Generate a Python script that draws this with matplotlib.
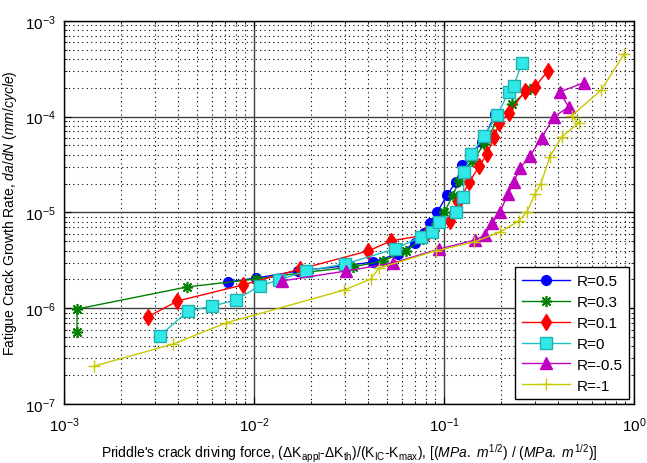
import numpy as np
import matplotlib
matplotlib.use("Agg")
import matplotlib.pyplot as plt
from matplotlib.ticker import LogLocator, NullFormatter

plt.rcParams['font.family'] = ['Liberation Sans', 'DejaVu Sans']
plt.rcParams['mathtext.fontset'] = 'custom'
plt.rcParams['mathtext.rm'] = 'Liberation Sans'
plt.rcParams['mathtext.it'] = 'Liberation Sans:italic'
plt.rcParams['mathtext.default'] = 'regular'

# data
x_r05 = [7.3e-3, 1.03e-2, 1.71e-2, 2.94e-2, 4.22e-2, 5.71e-2, 7.0e-2, 7.8e-2, 8.4e-2,
         9.2e-2, 0.104, 0.115, 0.125, 0.159, 0.186]
y_r05 = [1.88e-6, 2.07e-6, 2.45e-6, 2.76e-6, 3.04e-6, 3.69e-6, 4.8e-6, 6.1e-6, 7.8e-6,
         1.01e-5, 1.52e-5, 2.08e-5, 3.13e-5, 5.45e-5, 1.07e-4]

x_r03 = [1.17e-3, 1.17e-3, 4.45e-3, 1.02e-2, 1.93e-2, 3.32e-2, 4.76e-2, 6.28e-2, 7.71e-2,
         8.91e-2, 0.1005, 0.111, 0.120, 0.141, 0.163, 0.190, 0.228, 0.283]
y_r03 = [5.65e-7, 9.82e-7, 1.67e-6, 2.02e-6, 2.39e-6, 2.70e-6, 3.11e-6, 3.96e-6, 5.29e-6,
         7.06e-6, 1.01e-5, 1.49e-5, 2.13e-5, 3.45e-5, 5.19e-5, 9.03e-5, 1.36e-4, 1.95e-4]

x_r01 = [2.75e-3, 3.95e-3, 8.73e-3, 1.75e-2, 3.98e-2, 5.25e-2, 8.0e-2, 0.107, 0.119,
         0.136, 0.153, 0.169, 0.183, 0.195, 0.220, 0.267, 0.301, 0.352]
y_r01 = [8.1e-7, 1.19e-6, 1.75e-6, 2.57e-6, 3.96e-6, 5.04e-6, 5.82e-6, 8.15e-6, 1.29e-5,
         2.08e-5, 3.06e-5, 4.08e-5, 6.15e-5, 8.61e-5, 1.09e-4, 1.86e-4, 2.05e-4, 3.0e-4]

x_r0 = [3.18e-3, 4.50e-3, 6.01e-3, 8.01e-3, 1.07e-2, 1.35e-2, 1.88e-2, 3.01e-2, 5.51e-2,
        7.54e-2, 8.69e-2, 9.35e-2, 0.115, 0.126, 0.128, 0.139, 0.163, 0.190, 0.220,
        0.233, 0.257]
y_r0 = [5.13e-7, 9.36e-7, 1.05e-6, 1.22e-6, 1.71e-6, 1.97e-6, 2.45e-6, 2.90e-6, 4.16e-6,
        5.55e-6, 6.25e-6, 7.96e-6, 1.01e-5, 1.45e-5, 2.65e-5, 4.08e-5, 6.29e-5, 1.04e-4,
        1.81e-4, 2.10e-4, 3.64e-4]

x_rm05 = [1.41e-2, 3.06e-2, 5.37e-2, 9.46e-2, 0.146, 0.164, 0.179, 0.197, 0.217, 0.233,
          0.251, 0.283, 0.327, 0.378, 0.453, 0.406, 0.542]
y_rm05 = [1.93e-6, 2.45e-6, 2.97e-6, 4.16e-6, 5.16e-6, 5.82e-6, 7.77e-6, 1.01e-5, 1.56e-5,
          2.08e-5, 2.92e-5, 3.89e-5, 6.0e-5, 9.94e-5, 1.26e-4, 1.81e-4, 2.25e-4]

x_rm1 = [1.44e-3, 3.76e-3, 7.11e-3, 2.98e-2, 4.12e-2, 4.54e-2, 9.02e-2, 0.144, 0.197,
         0.248, 0.273, 0.301, 0.323, 0.360, 0.416, 0.511, 0.469, 0.673, 0.887]
y_rm1 = [2.49e-7, 4.24e-7, 7.02e-7, 1.55e-6, 2.02e-6, 2.63e-6, 3.96e-6, 4.92e-6, 6.25e-6,
         8.15e-6, 1.01e-5, 1.56e-5, 1.99e-5, 3.80e-5, 6.15e-5, 8.61e-5, 1.02e-4, 1.90e-4,
         4.52e-4]

fig = plt.figure(figsize=(6.47, 4.64), dpi=100)
ax = fig.add_axes([0.099, 0.127, 0.881, 0.826])

ax.plot(x_r05, y_r05, '-o', color='#0000FF', ms=7, mfc='#0000FF', mec='#0000FF', lw=1, label='R=0.5')
ax.plot(x_r03, y_r03, '-', marker=(8, 2, 0), color='#008000', ms=8, mew=1.2, lw=1, label='R=0.3')
ax.plot(x_r01, y_r01, '-d', color='#FF0000', ms=8, mfc='#FF0000', mec='#FF0000', lw=1, label='R=0.1')
ax.plot(x_r0, y_r0, '-s', color='#20C0C0', ms=8, mfc='#30E8E8', mec='#20B0B0', lw=1, label='R=0')
ax.plot(x_rm05, y_rm05, '-^', color='#C000C0', ms=9, mfc='#C000C0', mec='#C000C0', lw=1, label='R=-0.5')
ax.plot(x_rm1, y_rm1, '-+', color='#C8C800', ms=9, mew=1, lw=1, label='R=-1')

ax.set_xscale('log')
ax.set_yscale('log')
ax.set_xlim(1e-3, 1)
ax.set_ylim(1e-7, 1e-3)

ax.xaxis.set_minor_locator(LogLocator(base=10, subs=np.arange(2, 10)))
ax.yaxis.set_minor_locator(LogLocator(base=10, subs=np.arange(2, 10)))
ax.xaxis.set_minor_formatter(NullFormatter())
ax.yaxis.set_minor_formatter(NullFormatter())

ax.grid(True, which='major', color='#404040', ls='-', lw=1)
ax.grid(True, which='minor', color='black', ls=(0, (1, 3)), lw=0.8)
ax.set_axisbelow(True)

ax.tick_params(which='both', direction='in', top=True, right=True, labelsize=11)
ax.tick_params(axis='x', which='major', length=5, pad=8)
ax.tick_params(axis='y', which='major', length=5, pad=6)
ax.tick_params(which='minor', length=2.5)
for s in ax.spines.values():
    s.set_linewidth(1)

ax.set_xlabel("Priddle's crack driving force, ($\\Delta$K$_{appl}$-$\\Delta$K$_{th}$)/(K$_{IC}$-K$_{max}$), "
              "$\\mathit{[(MPa.\\ m^{1/2})\\ /\\ (MPa.\\ m^{1/2})]}$", fontsize=10, labelpad=6)
ax.set_ylabel("Fatigue Crack Growth Rate, $\\mathit{da/dN\\ (mm/cycle)}$", fontsize=10, labelpad=4)

leg = ax.legend(loc='lower right', fontsize=11, handlelength=3.2, labelspacing=0.45,
                handletextpad=0.4, fancybox=False, edgecolor='black', framealpha=1,
                borderpad=0.45, borderaxespad=0.3)
leg.get_frame().set_linewidth(1)

fig.savefig('out.png', dpi=100)
